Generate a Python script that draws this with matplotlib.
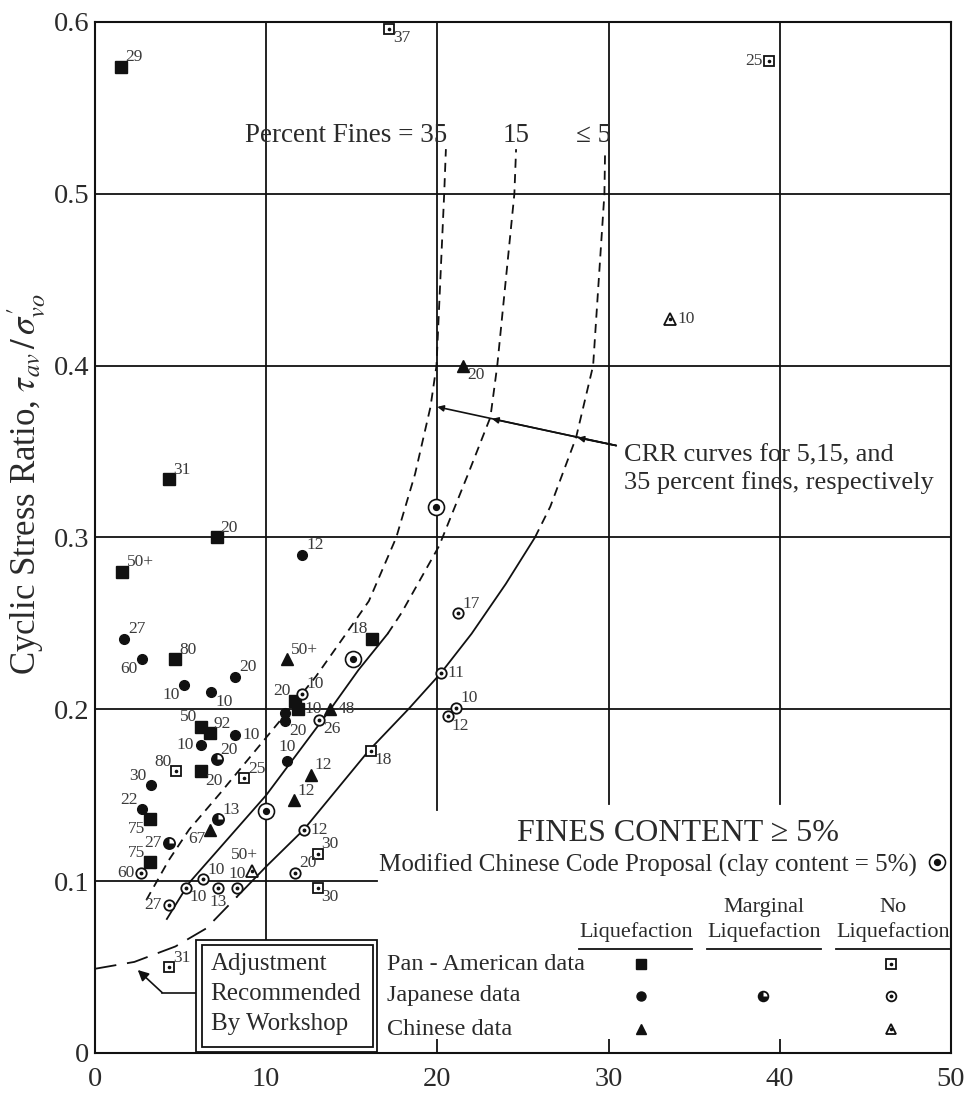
import matplotlib
matplotlib.use('Agg')
import matplotlib.pyplot as plt
from matplotlib.path import Path
from matplotlib.patches import Rectangle

plt.rcParams['font.family'] = ['Liberation Serif', 'DejaVu Serif']
plt.rcParams['mathtext.fontset'] = 'stix'

# ---------------- data ----------------
# Pan-American data, liquefaction (filled squares)
pan_liq_x = [1.5, 4.3, 7.1, 1.6, 4.7, 6.2, 6.7, 6.2, 3.2, 3.2, 11.7, 11.85, 16.2]
pan_liq_y = [0.574, 0.334, 0.300, 0.280, 0.229, 0.190, 0.186, 0.164, 0.136, 0.111, 0.205, 0.200, 0.241]
pan_liq_lbl = ["29", "31", "20", "50+", "80", "50", "92", "20", "75", "75", "20", "10", "18"]
# Pan-American data, no liquefaction (open squares)
pan_no_x = [17.2, 39.4, 4.75, 8.7, 16.1, 13.0, 13.0, 4.3]
pan_no_y = [0.596, 0.577, 0.164, 0.160, 0.176, 0.116, 0.096, 0.050]
pan_no_lbl = ["37", "25", "80", "25", "18", "30", "30", "31"]
# Japanese data, liquefaction (filled circles)
jap_liq_x = [1.7, 2.75, 5.2, 8.2, 6.8, 8.2, 6.2, 3.25, 2.75, 12.1, 11.1, 11.1, 11.2]
jap_liq_y = [0.241, 0.229, 0.214, 0.219, 0.210, 0.185, 0.179, 0.156, 0.142, 0.290, 0.198, 0.193, 0.170]
jap_liq_lbl = ["27", "60", "10", "20", "10", "10", "10", "30", "22", "12", "", "20", "10"]
# Japanese data, marginal liquefaction
jap_marg_x = [7.1, 7.2, 4.3]
jap_marg_y = [0.171, 0.136, 0.122]
jap_marg_lbl = ["20", "13", "27"]
# Japanese data, no liquefaction (open circles)
jap_no_x = [21.2, 20.2, 21.1, 20.6, 12.1, 13.1, 12.2, 11.7, 2.7, 6.3, 5.3, 7.2, 8.3, 4.3]
jap_no_y = [0.256, 0.221, 0.201, 0.196, 0.209, 0.194, 0.130, 0.105, 0.105, 0.101, 0.096, 0.096, 0.096, 0.086]
jap_no_lbl = ["17", "11", "10", "12", "10", "26", "12", "20", "60", "10", "10", "13", "10", "27"]
# Chinese data, liquefaction (filled triangles)
chn_liq_x = [21.5, 11.2, 13.75, 12.6, 11.6, 6.7]
chn_liq_y = [0.400, 0.229, 0.200, 0.162, 0.147, 0.130]
chn_liq_lbl = ["20", "50+", "48", "12", "12", "67"]
# Chinese data, no liquefaction (open triangles)
chn_no_x = [33.6, 9.2]
chn_no_y = [0.427, 0.106]
chn_no_lbl = ["10", "50+"]
# Modified Chinese Code Proposal (clay content = 5%)
mcc_x = [10.0, 15.1, 19.9]
mcc_y = [0.141, 0.229, 0.318]

# CRR curves
c35_x = [3.0, 4.3, 5.5, 7.3, 10.7, 12.9, 14.6, 16.0, 17.6, 18.7, 19.6, 19.95, 20.4, 20.5]
c35_y = [0.089, 0.112, 0.130, 0.151, 0.192, 0.219, 0.243, 0.263, 0.300, 0.337, 0.376, 0.400, 0.500, 0.526]
c15_solid_x = [4.2, 5.5, 7.0, 10.0, 13.75, 15.4, 17.1]
c15_solid_y = [0.078, 0.099, 0.116, 0.150, 0.200, 0.223, 0.244]
c15_dash_x = [17.1, 17.9, 20.1, 21.8, 23.1, 23.5, 24.5, 24.6]
c15_dash_y = [0.244, 0.256, 0.295, 0.337, 0.370, 0.400, 0.500, 0.526]
c5_solid_x = [8.3, 10.0, 12.2, 16.0, 18.3, 20.2, 22.0, 24.0, 25.7]
c5_solid_y = [0.091, 0.1085, 0.130, 0.176, 0.200, 0.221, 0.244, 0.273, 0.300]
c5_dash_x = [25.7, 26.6, 28.1, 29.1, 29.76, 29.8]
c5_dash_y = [0.300, 0.318, 0.358, 0.400, 0.500, 0.526]
adj_x = [0.0, 2.3, 4.7, 6.5, 8.3]
adj_y = [0.049, 0.053, 0.062, 0.0725, 0.091]

x_ticks = [0, 10, 20, 30, 40, 50]
y_ticks = [0, 0.1, 0.2, 0.3, 0.4, 0.5, 0.6]
y_tick_labels = ["0", "0.1", "0.2", "0.3", "0.4", "0.5", "0.6"]

# label placement codes (style only)
pan_liq_pos = ['ur', 'ur', 'ur', 'ur', 'ur', 'ul', 'ur', 'lr', 'll', 'ul', 'ul', 'r', 'ul']
pan_no_pos = ['lr', 'l', 'ul', 'ur', 'lr', 'ur', 'lr', 'ur']
jap_liq_pos = ['ur', 'll', 'll', 'ur', 'lr', 'r', 'l', 'ul', 'ul', 'ur', 'r', 'lr', 'u']
jap_marg_pos = ['ur', 'ur', 'l']
jap_no_pos = ['ur', 'r', 'ur', 'lr', 'ur', 'lr', 'r', 'ur', 'l', 'ur', 'lr', 'd', 'u', 'l']
chn_liq_pos = ['lr', 'ur', 'r', 'ur', 'ur', 'll']
chn_no_pos = ['r', 'ul2']

# ---------------- figure ----------------
TXT = '#2a2a2a'
LC = '#111111'
fig = plt.figure(figsize=(9.65, 10.93), dpi=100)
ax = fig.add_axes([0.0984, 0.0366, 0.887, 0.9433])
ax.set_xlim(0, 50)
ax.set_ylim(0, 0.6)
for s in ax.spines.values():
    s.set_linewidth(1.5)
    s.set_color(LC)

ax.set_xticks(x_ticks)
ax.set_xticklabels([str(v) for v in x_ticks])
ax.set_yticks(y_ticks)
ax.set_yticklabels(y_tick_labels)
ax.tick_params(axis='x', direction='in', length=10, width=1.3, pad=10, labelsize=20.5, colors=LC, labelcolor=TXT)
ax.tick_params(axis='y', length=0, pad=4, labelsize=20.5, labelcolor=TXT)

# partial grid lines
glw = 1.3
ax.plot([10, 10], [0, 0.6], color=LC, lw=glw, zorder=1)
ax.plot([20, 20], [0.1415, 0.6], color=LC, lw=glw, zorder=1)
ax.plot([30, 30], [0.145, 0.6], color=LC, lw=glw, zorder=1)
ax.plot([40, 40], [0.145, 0.6], color=LC, lw=glw, zorder=1)
ax.plot([0, 16.5], [0.1, 0.1], color=LC, lw=glw, zorder=1)
for yv in [0.2, 0.3, 0.4, 0.5]:
    ax.plot([0, 50], [yv, yv], color=LC, lw=glw, zorder=1)

# curves
clw = 1.3
dash = (0, (5, 3.5))
ax.plot(c35_x, c35_y, color=LC, lw=clw, ls=dash, zorder=2)
ax.plot(c15_solid_x, c15_solid_y, color=LC, lw=clw, zorder=2)
ax.plot(c15_dash_x, c15_dash_y, color=LC, lw=clw, ls=dash, zorder=2)
ax.plot(c5_solid_x, c5_solid_y, color=LC, lw=clw, zorder=2)
ax.plot(c5_dash_x, c5_dash_y, color=LC, lw=clw, ls=dash, zorder=2)
ax.plot(adj_x, adj_y, color=LC, lw=clw, ls=(0, (12, 6)), zorder=2)

# markers
OFF = {'ur': ((3, 1), 'left', 'bottom'), 'r': ((5, 0), 'left', 'center'),
       'lr': ((3, -1), 'left', 'top'), 'ul': ((-3, 1), 'right', 'bottom'),
       'l': ((-5, 0), 'right', 'center'), 'll': ((-3, -1), 'right', 'top'),
       'u': ((0, 4), 'center', 'bottom'), 'd': ((0, -4), 'center', 'top'),
       'ul2': ((-6, 6), 'center', 'bottom')}

def labels(xs, ys, lbls, poss, fs=12.5):
    for x, y, l, p in zip(xs, ys, lbls, poss):
        if not l:
            continue
        off, ha, va = OFF[p]
        ax.annotate(l, (x, y), xytext=off, textcoords='offset points',
                    ha=ha, va=va, fontsize=fs, color='#3a3a3a', zorder=7)

marg_wedge = Path.wedge(90, 360)

def m_filled_sq(x, y, ms=8):
    ax.plot(x, y, ls='none', marker='s', ms=ms, color=LC, zorder=5)

def m_open_sq(x, y, ms=7.5):
    ax.plot(x, y, ls='none', marker='s', ms=ms, mfc='white', mec=LC, mew=1.3, zorder=5)
    ax.plot(x, y, ls='none', marker='o', ms=1.6, color=LC, zorder=6)

def m_filled_ci(x, y, ms=7):
    ax.plot(x, y, ls='none', marker='o', ms=ms, color=LC, zorder=5)

def m_open_ci(x, y, ms=7.5):
    ax.plot(x, y, ls='none', marker='o', ms=ms, mfc='white', mec=LC, mew=1.3, zorder=5)
    ax.plot(x, y, ls='none', marker='o', ms=1.8, color=LC, zorder=6)

def m_marg(x, y, ms=8):
    ax.plot(x, y, ls='none', marker='o', ms=ms, mfc='white', mec=LC, mew=1.3, zorder=5)
    ax.plot(x, y, ls='none', marker=marg_wedge, ms=ms, color=LC, mew=0, zorder=6)

def m_filled_tr(x, y, ms=8):
    ax.plot(x, y, ls='none', marker='^', ms=ms, color=LC, zorder=5)

def m_open_tr(x, y, ms=8):
    ax.plot(x, y, ls='none', marker='^', ms=ms, mfc='white', mec=LC, mew=1.3, zorder=5)
    ax.plot(x, y, ls='none', marker='o', ms=1.6, color=LC, zorder=6)

def m_bull(x, y):
    ax.plot(x, y, ls='none', marker='o', ms=11.5, mfc='white', mec=LC, mew=1.2, zorder=5)
    ax.plot(x, y, ls='none', marker='o', ms=4.2, color=LC, zorder=6)

m_filled_sq(pan_liq_x, pan_liq_y)
labels(pan_liq_x, pan_liq_y, pan_liq_lbl, pan_liq_pos)
m_open_sq(pan_no_x, pan_no_y)
labels(pan_no_x, pan_no_y, pan_no_lbl, pan_no_pos)
m_filled_ci(jap_liq_x, jap_liq_y)
labels(jap_liq_x, jap_liq_y, jap_liq_lbl, jap_liq_pos)
m_marg(jap_marg_x, jap_marg_y)
labels(jap_marg_x, jap_marg_y, jap_marg_lbl, jap_marg_pos)
m_open_ci(jap_no_x, jap_no_y)
labels(jap_no_x, jap_no_y, jap_no_lbl, jap_no_pos)
m_filled_tr(chn_liq_x, chn_liq_y)
labels(chn_liq_x, chn_liq_y, chn_liq_lbl, chn_liq_pos)
m_open_tr(chn_no_x, chn_no_y)
labels(chn_no_x, chn_no_y, chn_no_lbl, chn_no_pos)
m_bull(mcc_x, mcc_y)

# curve labels
ax.text(20.6, 0.534, "Percent Fines = 35", ha='right', va='center', fontsize=19.5, color=TXT)
ax.text(24.6, 0.534, "15", ha='center', va='center', fontsize=19.5, color=TXT)
ax.text(29.1, 0.534, "≤ 5", ha='center', va='center', fontsize=19.5, color=TXT)

# CRR arrow annotation
src = (30.45, 0.3535)
for tgt in [(28.2, 0.358), (23.2, 0.369), (20.0, 0.376)]:
    ax.annotate('', xy=tgt, xytext=src,
                arrowprops=dict(arrowstyle='-|>', color=LC, lw=1.2, mutation_scale=9,
                                shrinkA=0, shrinkB=0), zorder=4)
ax.text(30.9, 0.348, "CRR curves for 5,15, and", ha='left', va='center', fontsize=19, color=TXT)
ax.text(30.9, 0.332, "35 percent fines, respectively", ha='left', va='center', fontsize=19, color=TXT)

# fines content block
ax.text(34.05, 0.128, "FINES CONTENT ≥ 5%", ha='center', va='center', fontsize=23, color=TXT)
ax.text(48.0, 0.109, "Modified Chinese Code Proposal (clay content = 5%)", ha='right', va='center',
        fontsize=18, color=TXT)
m_bull([49.2], [0.1113])

ax.text(39.1, 0.0848, "Marginal", ha='center', va='center', fontsize=16, color=TXT)
ax.text(46.6, 0.0848, "No", ha='center', va='center', fontsize=16, color=TXT)
for xc in [31.6, 39.1, 46.6]:
    ax.text(xc, 0.0703, "Liquefaction", ha='center', va='center', fontsize=16, color=TXT)
for x0, x1 in [(28.3, 34.9), (35.75, 42.4), (43.3, 49.95)]:
    ax.plot([x0, x1], [0.0606, 0.0606], color=LC, lw=1.3, zorder=3)

row_y = [0.0515, 0.0333, 0.0139]
for yy, name in zip(row_y, ["Pan - American data", "Japanese data", "Chinese data"]):
    ax.text(17.06, yy, name, ha='left', va='center', fontsize=17.5, color=TXT)
m_filled_sq([31.9], [row_y[0]], ms=7)
m_open_sq([46.5], [row_y[0]], ms=7)
m_filled_ci([31.9], [row_y[1]], ms=6.5)
m_marg([39.0], [row_y[1]], ms=7)
m_open_ci([46.5], [row_y[1]], ms=7)
m_filled_tr([31.9], [row_y[2]], ms=7.5)
m_open_tr([46.5], [row_y[2]], ms=7.5)

# adjustment box
ax.add_patch(Rectangle((5.92, 0.0008), 16.47 - 5.92, 0.0655 - 0.0008, facecolor='white',
                       edgecolor=LC, lw=1.3, zorder=8))
ax.add_patch(Rectangle((6.24, 0.0034), 16.27 - 6.24, 0.0630 - 0.0034, facecolor='none',
                       edgecolor=LC, lw=1.3, zorder=8))
for yy, t in zip([0.0515, 0.0341, 0.017], ["Adjustment", "Recommended", "By Workshop"]):
    ax.text(6.75, yy, t, ha='left', va='center', fontsize=18, color=TXT, zorder=9)
ax.plot([5.92, 3.92], [0.0352, 0.0352], color=LC, lw=1.2, zorder=4)
ax.annotate('', xy=(2.5, 0.0483), xytext=(3.92, 0.0352),
            arrowprops=dict(arrowstyle='-|>', color=LC, lw=1.2, mutation_scale=16,
                            shrinkA=0, shrinkB=0), zorder=4)

# y label
fig.text(0.027, 0.557, r"Cyclic Stress Ratio, $\tau_{av}\,/\,\sigma_{vo}'$", rotation=90,
         ha='center', va='center', fontsize=25, color=TXT)

fig.savefig('out.png', dpi=100)
